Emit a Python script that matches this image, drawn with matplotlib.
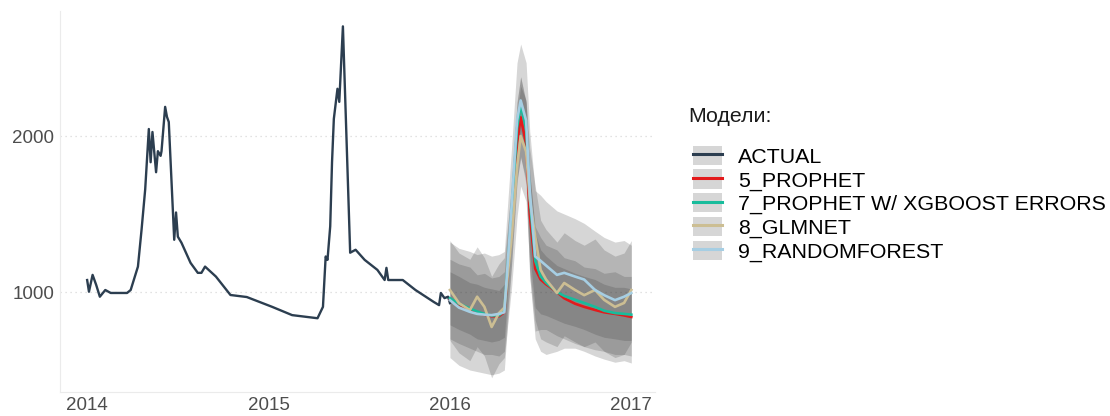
import matplotlib
matplotlib.use("Agg")
import matplotlib.pyplot as plt
from matplotlib.patches import Patch
from matplotlib.lines import Line2D
from matplotlib.legend_handler import HandlerTuple

# ---- data ----
actual_t = [2014.00, 2014.01, 2014.03, 2014.05, 2014.07, 2014.10, 2014.13, 2014.22,
            2014.24, 2014.28, 2014.30, 2014.32, 2014.34, 2014.35, 2014.36, 2014.38,
            2014.39, 2014.405, 2014.41, 2014.43, 2014.44, 2014.45, 2014.48, 2014.49,
            2014.50, 2014.52, 2014.57, 2014.61, 2014.63, 2014.65, 2014.71, 2014.79,
            2014.88, 2015.02, 2015.13, 2015.27, 2015.30, 2015.315, 2015.325, 2015.34,
            2015.35, 2015.36, 2015.38, 2015.39, 2015.41, 2015.45, 2015.48, 2015.53,
            2015.60, 2015.64, 2015.65, 2015.66, 2015.74, 2015.81, 2015.91, 2015.94,
            2015.95, 2015.97, 2015.99, 2016.00]
actual_v = [1077, 1002, 1110, 1045, 970, 1013, 994, 994,
            1013, 1163, 1400, 1658, 2045, 1832, 2026, 1768,
            1903, 1873, 1903, 2187, 2123, 2090, 1335, 1510,
            1355, 1316, 1187, 1123, 1123, 1163, 1099, 981,
            968, 905, 852, 832, 905, 1228, 1206, 1421,
            1832, 2110, 2303, 2219, 2703, 1252, 1271, 1206,
            1142, 1077, 1155, 1077, 1077, 1013, 937, 916,
            994, 961, 970, 929]

fc_t = [2016.00, 2016.05, 2016.11, 2016.15, 2016.19, 2016.23, 2016.27, 2016.30,
        2016.34, 2016.37, 2016.39, 2016.42, 2016.44, 2016.47, 2016.50, 2016.53,
        2016.59, 2016.63, 2016.69, 2016.74, 2016.80, 2016.85, 2016.91, 2016.96,
        2017.00]

prophet = [950, 920, 890, 870, 855, 845, 845, 870, 1450, 1950, 2120, 1950, 1500,
           1150, 1080, 1050, 1000, 960, 925, 905, 885, 870, 860, 850, 840]
prophet_hi = [1210, 1180, 1160, 1110, 1120, 1090, 1100, 1130, 1720, 2210, 2380, 2220,
              1760, 1420, 1350, 1300, 1270, 1220, 1200, 1160, 1150, 1120, 1130, 1100, 1100]
prophet_lo = [700, 670, 640, 620, 600, 600, 590, 620, 1190, 1700, 1870, 1690, 1100,
              750, 760, 760, 720, 700, 670, 650, 630, 620, 600, 600, 590]

xgb = [960, 925, 895, 875, 860, 850, 850, 880, 1500, 2050, 2200, 2050, 1600,
       1200, 1100, 1060, 1000, 975, 950, 930, 905, 880, 865, 860, 855]
xgb_hi = [1130, 1100, 1060, 1050, 1030, 1020, 1010, 1050, 1670, 2220, 2380, 2210,
          1770, 1380, 1270, 1230, 1170, 1150, 1120, 1100, 1080, 1050, 1030, 1030, 1020]
xgb_lo = [790, 760, 730, 700, 690, 680, 690, 710, 1330, 1880, 2030, 1880, 1250,
          900, 860, 850, 820, 800, 780, 760, 730, 710, 700, 690, 690]

glmnet = [1013, 929, 884, 970, 905, 776, 865, 900, 1350, 1800, 2000, 1900, 1600,
          1357, 1142, 1080, 994, 1058, 1013, 980, 1013, 950, 905, 930, 1013]
glmnet_hi = [1330, 1250, 1210, 1290, 1220, 1100, 1180, 1220, 1670, 2120, 2320, 2230,
             1920, 1680, 1460, 1400, 1320, 1380, 1330, 1300, 1340, 1270, 1230, 1250, 1330]
glmnet_lo = [690, 610, 560, 650, 590, 450, 540, 580, 1030, 1480, 1680, 1580, 1150,
             820, 700, 680, 650, 720, 680, 650, 680, 620, 580, 600, 680]

rf = [948, 900, 873, 860, 855, 852, 860, 870, 1550, 2100, 2228, 2100, 1650,
      1228, 1200, 1170, 1110, 1123, 1099, 1080, 1013, 980, 948, 970, 994]
rf_hi = [1320, 1280, 1260, 1240, 1250, 1230, 1240, 1260, 1930, 2470, 2590, 2470, 2030,
         1650, 1620, 1580, 1520, 1500, 1470, 1440, 1390, 1350, 1320, 1330, 1300]
rf_lo = [580, 530, 500, 490, 480, 470, 480, 500, 1170, 1720, 1860, 1720, 1100,
         700, 620, 600, 620, 640, 640, 620, 590, 570, 550, 560, 545]

labels = ["ACTUAL", "5_PROPHET", "7_PROPHET W/ XGBOOST ERRORS", "8_GLMNET", "9_RANDOMFOREST"]
colors = ["#2c3e50", "#e31a1c", "#18bc9c", "#ccbe93", "#a6cee3"]
year_ticks = [2014, 2015, 2016, 2017]
value_ticks = [1000, 2000]

plt.rcParams["font.family"] = ["Liberation Sans", "DejaVu Sans"]

fig = plt.figure(figsize=(11.1, 4.16), dpi=100, facecolor="white")
ax = fig.add_axes([0.054, 0.058, 0.536, 0.915])

# confidence ribbons
bands = [(prophet_lo, prophet_hi), (xgb_lo, xgb_hi), (glmnet_lo, glmnet_hi), (rf_lo, rf_hi)]
for lo, hi in bands:
    ax.fill_between(fc_t, lo, hi, color="#333333", alpha=0.2, linewidth=0, zorder=2)

ax.plot(actual_t, actual_v, color=colors[0], lw=1.7, zorder=4)
for series, c in zip([prophet, xgb, glmnet, rf], colors[1:]):
    ax.plot(fc_t, series, color=c, lw=1.9, zorder=5)

ax.set_xlim(2013.85, 2017.13)
ax.set_ylim(360, 2800)
ax.set_xticks(year_ticks)
ax.set_xticklabels([str(y) for y in year_ticks])
ax.set_yticks(value_ticks)
ax.tick_params(length=0, labelsize=13.5, colors="#4d4d4d", pad=4)
ax.grid(axis="y", color="#d9d9d9", linestyle=(0, (1, 3)), linewidth=0.9)
ax.set_axisbelow(True)
for side in ("top", "right"):
    ax.spines[side].set_visible(False)
for side in ("left", "bottom"):
    ax.spines[side].set_color("#ebebeb")
    ax.spines[side].set_linewidth(0.8)

# legend
fig.text(688 / 1110, 1 - 117 / 416, "Модели:", fontsize=15.4, color="#1a1a1a",
         ha="left", va="center")
handles = [(Patch(facecolor="#d6d6d6", edgecolor="none"), Line2D([], [], color=c, lw=2.2))
           for c in colors]
fig.legend(handles, labels, loc="upper left", bbox_to_anchor=(693 / 1110, 1 - 146 / 416),
           frameon=False, fontsize=15.4, borderpad=0, borderaxespad=0,
           handler_map={tuple: HandlerTuple(ndivide=1)},
           handlelength=1.36, handleheight=1.0, labelspacing=0.12,
           handletextpad=0.75)

fig.savefig("out.png", dpi=100, facecolor="white")
